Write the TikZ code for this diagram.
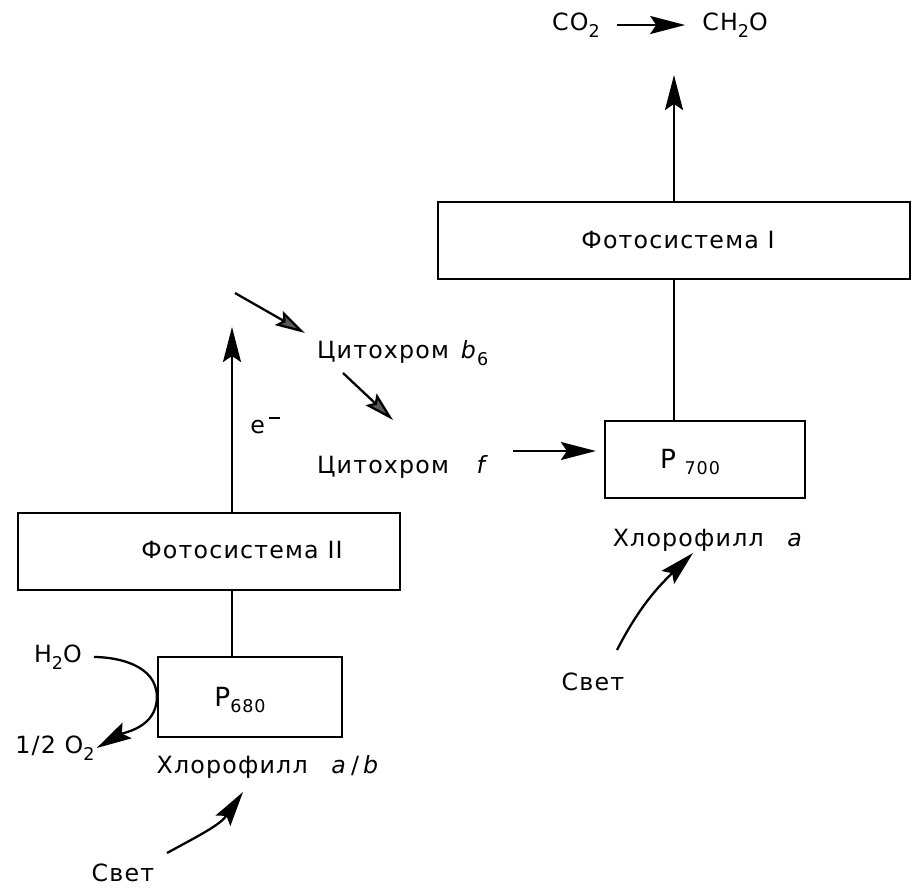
\documentclass[tikz,border=0pt]{standalone}
\usepackage{fontspec}
\setmainfont{DejaVu Sans}[LetterSpace=5]
\usetikzlibrary{arrows.meta}

\newcommand\lowidx[1]{\raisebox{-0.5ex}{\fontsize{10}{12}\selectfont #1}}

\begin{document}
\begin{tikzpicture}[x = 0.02cm, y = 0.02cm,
	> = {Stealth[length = 7mm, width = 3.6mm, inset = 1.2mm]},
	box/.style = {draw, line width = 1.3pt, minimum height = 1.54cm, inner sep = 0pt},
	flow/.style = {->, line width = 1.3pt},
	relay/.style = {-{Stealth[open, fill = black!65, length = 6mm, width = 3.2mm, inset = 1mm]}, line width = 1.3pt},
	txt/.style = {font = \fontsize{13.5}{16}\selectfont, inner sep = 1pt}]

	% Frame

	\useasboundingbox (0, 0) rectangle (914, -887);

	% Photosystem I

	\node [box, minimum width = 9.44cm] (psI) at (674, -240.5) {};
	\node [txt] (psIlabel) at (678, -240) {Фотосистема I};
	\node [box, minimum width = 4cm] (pI) at (705, -459.5) {};
	\node [txt] (pIlabel) at (690, -462) {{\fontsize{15}{18}\selectfont P} \lowidx{700}};
	\node [txt] (chlI) at (708, -540) {Хлорофилл\quad\textit{a}};
	\node [txt] (sunI) at (593, -682) {Свет};

	\node [txt] (co2) at (576, -25) {CO\lowidx{2}};
	\node [txt] (ch2o) at (735, -25) {CH\lowidx{2}O};
	\coordinate (fixOut) at (674, -75);

	\draw [flow, shorten < = 3mm, shorten > = 3mm] (co2) -- (ch2o);
	\draw [flow] (psI.north) -- (fixOut);
	\draw [line width = 1.3pt] (psI.south) -- (psI.south |- pI.north);

	% Light for P700

	\coordinate (lightIs) at (617, -650);
	\coordinate (lightIe) at (693, -553);
	\draw [flow] (lightIs) .. controls (640, -605) and (660, -585) .. (lightIe);

	% Cytochromes

	\node [txt, anchor = west] (cytb) at (315, -353) {Цитохром\enspace\textit{b}\lowidx{6}};
	\node [txt, anchor = west] (cytf) at (315, -467) {Цитохром\quad\,\textit{f}};

	\coordinate (bFrom) at (235, -293);
	\coordinate (bTo) at (305, -333);
	\coordinate (fFrom) at (343, -373);
	\coordinate (fTo) at (393, -420);
	\coordinate (fOut) at (513, -451);

	\draw [relay] (bFrom) -- (bTo);
	\draw [relay] (fFrom) -- (fTo);
	\draw [flow, shorten > = 1.6mm] (fOut) -- (fOut -| pI.west);

	% Photosystem II

	\node [box, minimum width = 7.64cm] (psII) at (209, -551.5) {};
	\node [txt] (psIIlabel) at (242, -550) {Фотосистема II};
	\node [box, minimum width = 3.68cm, minimum height = 1.6cm] (pII) at (250, -697) {};
	\node [txt] (pIIlabel) at (240, -700) {{\fontsize{15}{18}\selectfont P}\lowidx{680}};
	\node [txt] (chlII) at (268, -767) {Хлорофилл\quad\textit{a}\,/\,\textit{b}};
	\node [txt] (sunII) at (123, -873) {Свет};
	\node [txt] (e) at (265, -425) {e\,\rule[1.1ex]{6pt}{1.2pt}};

	\coordinate (eTop) at (232, -327);
	\draw [flow] (eTop |- psII.north) -- (eTop);
	\draw [line width = 1.3pt] (eTop |- psII.south) -- (eTop |- pII.north);

	% Water splitting

	\node [txt] (h2o) at (58, -657) {H\lowidx{2}O};
	\node [txt] (o2) at (55, -748) {1/2 O\lowidx{2}};
	\draw [flow, shorten < = 2mm] (h2o.east) to [out = 0, in = 90] (pII.west) to [out = -90, in = 30] (o2.east);

	% Light for P680

	\coordinate (lightIIs) at (167, -853);
	\coordinate (lightIIe) at (243, -792);
	\draw [flow] (lightIIs) .. controls (200, -835) and (220, -825) .. (lightIIe);

\end{tikzpicture}
\end{document}
